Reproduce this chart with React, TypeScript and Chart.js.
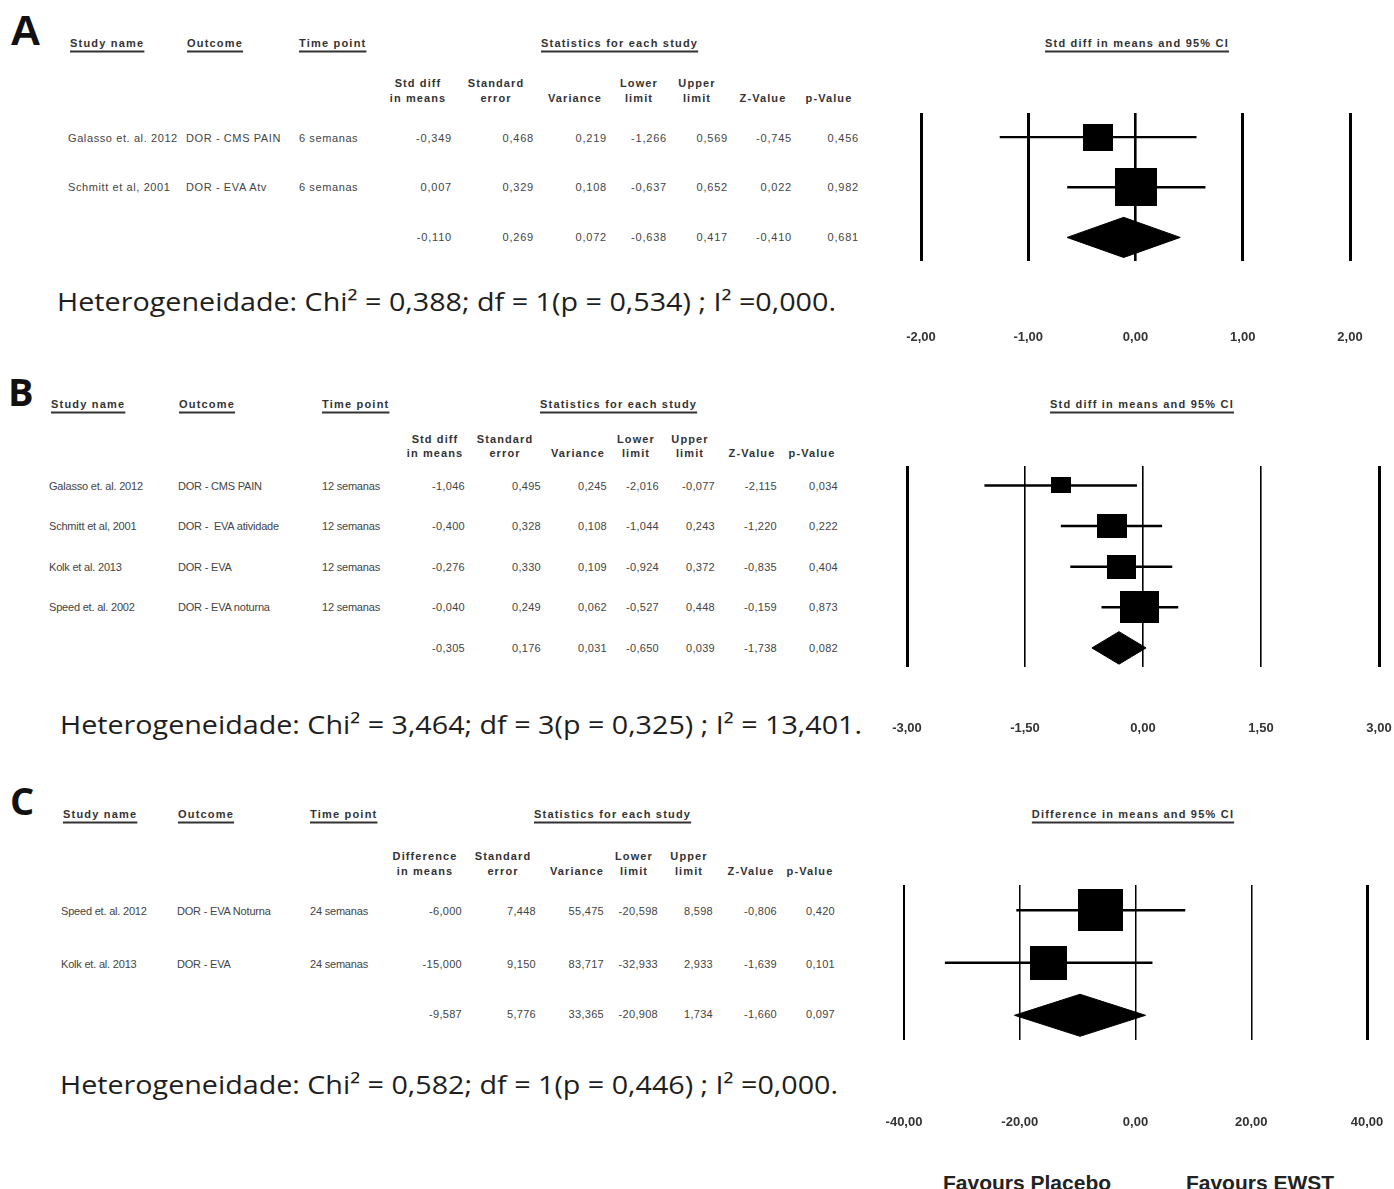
import React, { useEffect, useMemo, useRef } from 'react';
import { Chart, registerables } from 'chart.js';

Chart.register(...registerables);

// ---------------- Panel A data ----------------
const studiesA = ['Galasso et. al. 2012', 'Schmitt et al, 2001'];
const outcomesA = ['DOR - CMS PAIN', 'DOR - EVA Atv'];
const timesA = ['6 semanas', '6 semanas'];
const effectA = [-0.349, 0.007];
const seA = [0.468, 0.329];
const varA = [0.219, 0.108];
const lowerA = [-1.266, -0.637];
const upperA = [0.569, 0.652];
const zA = [-0.745, 0.022];
const pA = [0.456, 0.982];
// effect, se, variance, lower, upper, z, p
const summaryA = [-0.110, 0.269, 0.072, -0.638, 0.417, -0.410, 0.681];
const ticksA = [-2, -1, 0, 1, 2];
const hetA = 'Heterogeneidade: Chi² = 0,388; df = 1(p = 0,534) ; I² =0,000.';

// ---------------- Panel B data ----------------
const studiesB = ['Galasso et. al. 2012', 'Schmitt et al, 2001', 'Kolk et al. 2013', 'Speed et. al. 2002'];
const outcomesB = ['DOR - CMS PAIN', 'DOR -  EVA atividade', 'DOR - EVA', 'DOR - EVA noturna'];
const timesB = ['12 semanas', '12 semanas', '12 semanas', '12 semanas'];
const effectB = [-1.046, -0.400, -0.276, -0.040];
const seB = [0.495, 0.328, 0.330, 0.249];
const varB = [0.245, 0.108, 0.109, 0.062];
const lowerB = [-2.016, -1.044, -0.924, -0.527];
const upperB = [-0.077, 0.243, 0.372, 0.448];
const zB = [-2.115, -1.220, -0.835, -0.159];
const pB = [0.034, 0.222, 0.404, 0.873];
const summaryB = [-0.305, 0.176, 0.031, -0.650, 0.039, -1.738, 0.082];
const ticksB = [-3, -1.5, 0, 1.5, 3];
const hetB = 'Heterogeneidade: Chi² = 3,464; df = 3(p = 0,325) ; I² = 13,401.';

// ---------------- Panel C data ----------------
const studiesC = ['Speed et. al. 2012', 'Kolk et. al. 2013'];
const outcomesC = ['DOR - EVA Noturna', 'DOR - EVA'];
const timesC = ['24 semanas', '24 semanas'];
const effectC = [-6.0, -15.0];
const seC = [7.448, 9.150];
const varC = [55.475, 83.717];
const lowerC = [-20.598, -32.933];
const upperC = [8.598, 2.933];
const zC = [-0.806, -1.639];
const pC = [0.420, 0.101];
const summaryC = [-9.587, 5.776, 33.365, -20.908, 1.734, -1.660, 0.097];
const ticksC = [-40, -20, 0, 20, 40];
const hetC = 'Heterogeneidade: Chi² = 0,582; df = 1(p = 0,446) ; I² =0,000.';

const headLine1Std = ['Std diff', 'Standard', '', 'Lower', 'Upper', '', ''];
const headLine1Diff = ['Difference', 'Standard', '', 'Lower', 'Upper', '', ''];
const headLine2 = ['in means', 'error', 'Variance', 'limit', 'limit', 'Z-Value', 'p-Value'];

const fmt3 = (v: number) => v.toFixed(3).replace('.', ',');
const fmt2 = (v: number) => v.toFixed(2).replace('.', ',');

const SANS = '"Liberation Sans", Arial, sans-serif';

function T(props: { x: number; y: number; a?: 'l' | 'r' | 'c'; s?: React.CSSProperties; children: React.ReactNode }) {
  const { x, y, a = 'l', s, children } = props;
  const tx = a === 'l' ? '0' : a === 'r' ? '-100%' : '-50%';
  return (
    <div
      style={{
        position: 'absolute',
        left: x,
        top: y,
        transform: `translate(${tx},-50%)`,
        whiteSpace: 'pre',
        lineHeight: 1,
        ...s,
      }}
    >
      {children}
    </div>
  );
}

function FitText(props: { x: number; y: number; w: number; text: string; font: string }) {
  const { x, y, w, text, font } = props;
  const measured = useMemo(() => {
    const c = document.createElement('canvas').getContext('2d');
    if (!c) return w;
    c.font = font;
    return c.measureText(text).width;
  }, [text, font, w]);
  const sx = w / measured;
  return (
    <div
      style={{
        position: 'absolute',
        left: x,
        top: y,
        transform: `translateY(-50%) scaleX(${sx})`,
        transformOrigin: 'left center',
        font,
        lineHeight: 1,
        whiteSpace: 'pre',
        color: '#1e1e1e',
      }}
    >
      {text}
    </div>
  );
}

type ForestLayout = {
  x0: number; x1: number; y0: number; y1: number; labelY: number;
  boxW: number; boxH: number; grid: number[]; ci: number;
};

function Forest(props: {
  lay: ForestLayout; effects: number[]; se: number[]; lower: number[]; upper: number[];
  summary: number[]; ticks: number[];
}) {
  const { lay, effects, se, lower, upper, summary, ticks } = props;
  const ref = useRef<HTMLCanvasElement>(null);
  const padL = 40;
  const padT = 5;
  const fontSize = 13;
  const gap = lay.labelY - lay.y1;
  const axisH = gap + 14;
  const W = lay.x1 - lay.x0 + 2 * padL;
  const H = lay.y1 - lay.y0 + padT + axisH;

  useEffect(() => {
    if (!ref.current) return;
    const n = effects.length;
    const maxInv = Math.max(...se.map((s) => 1 / s));
    const boxes = se.map((s) => {
      const r = 1 / s / maxInv;
      const c = document.createElement('canvas');
      c.width = Math.max(2, Math.round(lay.boxW * r));
      c.height = Math.max(2, Math.round(lay.boxH * r));
      const g = c.getContext('2d');
      if (g) {
        g.fillStyle = '#000';
        g.fillRect(0, 0, c.width, c.height);
      }
      return c;
    });
    const [sE, , , sL, sU] = summary;
    const datasets: any[] = [
      {
        data: effects.map((e, i) => ({ x: e, y: i })),
        pointStyle: boxes,
        pointRadius: 1,
        showLine: false,
      },
      ...effects.map((_, i) => ({
        data: [
          { x: lower[i], y: i },
          { x: upper[i], y: i },
        ],
        showLine: true,
        borderColor: '#000',
        borderWidth: lay.ci,
        pointRadius: 0,
        fill: false,
      })),
      {
        data: [
          { x: sL, y: n },
          { x: sE, y: n - 0.4 },
          { x: sU, y: n },
        ],
        showLine: true,
        borderColor: '#000',
        backgroundColor: '#000',
        borderWidth: 1,
        pointRadius: 0,
        fill: '+1',
      },
      {
        data: [
          { x: sL, y: n },
          { x: sE, y: n + 0.4 },
          { x: sU, y: n },
        ],
        showLine: true,
        borderColor: '#000',
        backgroundColor: '#000',
        borderWidth: 1,
        pointRadius: 0,
        fill: false,
      },
    ];
    const chart = new Chart(ref.current, {
      type: 'scatter',
      data: { datasets },
      options: {
        responsive: false,
        animation: false,
        events: [],
        layout: { padding: { left: padL, right: padL, top: padT, bottom: 0 } },
        plugins: { legend: { display: false }, tooltip: { enabled: false } },
        scales: {
          x: {
            type: 'linear',
            min: ticks[0],
            max: ticks[ticks.length - 1],
            afterBuildTicks: (s: any) => {
              s.ticks = ticks.map((v) => ({ value: v }));
            },
            afterFit: (s: any) => {
              s.height = axisH;
            },
            border: { display: false },
            grid: {
              color: '#000',
              drawTicks: false,
              lineWidth: (ctx: any) => lay.grid[ctx.index] ?? 1,
            },
            ticks: {
              padding: 0,
              autoSkip: false,
              maxRotation: 0,
              color: '#333',
              font: { family: SANS, size: fontSize, weight: 'bold', lineHeight: `${2 * gap}px` },
              callback: (v: any) => fmt2(Number(v)),
            },
          },
          y: {
            type: 'linear',
            display: false,
            min: -0.48,
            max: n + 0.47,
            reverse: true,
          },
        },
      } as any,
    });
    return () => chart.destroy();
  }, []);

  return (
    <canvas
      ref={ref}
      width={W}
      height={H}
      style={{ position: 'absolute', left: lay.x0 - padL, top: lay.y0 - padT, width: W, height: H }}
    />
  );
}

type TableLayout = {
  headY: number; nameX: number; outX: number; timeX: number; statX: number; titleX: number;
  hY1: number; hY2: number; centers: number[]; rights: number[]; rowsY: number[];
  valSpacing: number; nameSpacing: number;
};

const underlined: React.CSSProperties = {
  fontFamily: SANS,
  fontWeight: 'bold',
  fontSize: 11,
  letterSpacing: 1.2,
  color: '#333',
  textDecoration: 'underline',
  textUnderlineOffset: 4,
  textDecorationThickness: 1.5,
};

const colHead: React.CSSProperties = {
  fontFamily: SANS,
  fontWeight: 'bold',
  fontSize: 11,
  letterSpacing: 1.1,
  color: '#333',
};

function Table(props: {
  lay: TableLayout; title: string; h1: string[];
  names: string[]; outcomes: string[]; times: string[]; rows: number[][]; summary: number[];
}) {
  const { lay, title, h1, names, outcomes, times, rows, summary } = props;
  const val: React.CSSProperties = { fontFamily: SANS, fontSize: 11, color: '#444', letterSpacing: lay.valSpacing };
  const nm: React.CSSProperties = { fontFamily: SANS, fontSize: 11, color: '#444', letterSpacing: lay.nameSpacing };
  const allRows = [...rows, summary];
  return (
    <>
      <T x={lay.nameX} y={lay.headY} s={underlined}>Study name</T>
      <T x={lay.outX} y={lay.headY} s={underlined}>Outcome</T>
      <T x={lay.timeX} y={lay.headY} s={underlined}>Time point</T>
      <T x={lay.statX} y={lay.headY} s={underlined}>Statistics for each study</T>
      <T x={lay.titleX} y={lay.headY} a="c" s={underlined}>{title}</T>
      {h1.map((h, i) => (h ? <T key={'a' + i} x={lay.centers[i]} y={lay.hY1} a="c" s={colHead}>{h}</T> : null))}
      {headLine2.map((h, i) => (
        <T key={'b' + i} x={lay.centers[i]} y={lay.hY2} a="c" s={colHead}>{h}</T>
      ))}
      {names.map((s, i) => (
        <T key={'n' + i} x={lay.nameX - 2} y={lay.rowsY[i]} s={nm}>{s}</T>
      ))}
      {outcomes.map((s, i) => (
        <T key={'o' + i} x={lay.outX - 1} y={lay.rowsY[i]} s={nm}>{s}</T>
      ))}
      {times.map((s, i) => (
        <T key={'t' + i} x={lay.timeX} y={lay.rowsY[i]} s={nm}>{s}</T>
      ))}
      {allRows.map((r, i) =>
        r.map((v, j) => (
          <T key={`v${i}-${j}`} x={lay.rights[j]} y={lay.rowsY[i]} a="r" s={val}>{fmt3(v)}</T>
        ))
      )}
    </>
  );
}

const rowsOf = (e: number[], s: number[], v: number[], l: number[], u: number[], z: number[], p: number[]) =>
  e.map((_, i) => [e[i], s[i], v[i], l[i], u[i], z[i], p[i]]);

const tableA: TableLayout = {
  headY: 43, nameX: 70, outX: 187, timeX: 299, statX: 541, titleX: 1137,
  hY1: 83, hY2: 98, centers: [418, 496, 575, 639, 697, 763, 829],
  rights: [452, 534, 607, 667, 728, 792, 859], rowsY: [138, 187, 237],
  valSpacing: 0.8, nameSpacing: 0.6,
};
const tableB: TableLayout = {
  headY: 404, nameX: 51, outX: 179, timeX: 322, statX: 540, titleX: 1142,
  hY1: 439, hY2: 453, centers: [435, 505, 578, 636, 690, 752, 812],
  rights: [465, 541, 607, 659, 715, 777, 838], rowsY: [486, 526, 567, 607, 648],
  valSpacing: 0.3, nameSpacing: -0.2,
};
const tableC: TableLayout = {
  headY: 814, nameX: 63, outX: 178, timeX: 310, statX: 534, titleX: 1133,
  hY1: 856, hY2: 871, centers: [425, 503, 577, 634, 689, 751, 810],
  rights: [462, 536, 604, 658, 713, 777, 835], rowsY: [911, 964, 1014],
  valSpacing: 0.3, nameSpacing: -0.2,
};

const forestA: ForestLayout = { x0: 921, x1: 1350, y0: 113, y1: 261, labelY: 337, boxW: 42, boxH: 38, grid: [3, 3, 2.6, 3, 3], ci: 2.3 };
const forestB: ForestLayout = { x0: 907, x1: 1379, y0: 466, y1: 667, labelY: 728, boxW: 39, boxH: 32, grid: [3, 1.6, 1.6, 1.6, 3], ci: 2.5 };
const forestC: ForestLayout = { x0: 904, x1: 1367, y0: 885, y1: 1040, labelY: 1122, boxW: 45, boxH: 42, grid: [2, 1.5, 1.5, 1.5, 3], ci: 2.5 };

const HET_FONT = '25px "Open Sans"';

export default function App() {
  return (
    <div
      style={{
        position: 'absolute',
        left: 0,
        top: 0,
        width: 1394,
        height: 1189,
        background: '#fff',
        overflow: 'hidden',
      }}
    >
      <T x={10} y={30} s={{ fontFamily: SANS, fontWeight: 'bold', fontSize: 43, color: '#111' }}>A</T>
      <T x={8} y={391} s={{ fontFamily: '"Open Sans"', fontWeight: 'bold', fontSize: 38, color: '#111' }}>B</T>
      <T x={10} y={800} s={{ fontFamily: '"Open Sans"', fontWeight: 'bold', fontSize: 38, color: '#111' }}>C</T>

      <Table
        lay={tableA}
        title="Std diff in means and 95% CI"
        h1={headLine1Std}
        names={studiesA}
        outcomes={outcomesA}
        times={timesA}
        rows={rowsOf(effectA, seA, varA, lowerA, upperA, zA, pA)}
        summary={summaryA}
      />
      <Table
        lay={tableB}
        title="Std diff in means and 95% CI"
        h1={headLine1Std}
        names={studiesB}
        outcomes={outcomesB}
        times={timesB}
        rows={rowsOf(effectB, seB, varB, lowerB, upperB, zB, pB)}
        summary={summaryB}
      />
      <Table
        lay={tableC}
        title="Difference in means and 95% CI"
        h1={headLine1Diff}
        names={studiesC}
        outcomes={outcomesC}
        times={timesC}
        rows={rowsOf(effectC, seC, varC, lowerC, upperC, zC, pC)}
        summary={summaryC}
      />

      <FitText x={57} y={301} w={779} text={hetA} font={HET_FONT} />
      <FitText x={60} y={724} w={802} text={hetB} font={HET_FONT} />
      <FitText x={60} y={1084} w={778} text={hetC} font={HET_FONT} />

      <Forest lay={forestA} effects={effectA} se={seA} lower={lowerA} upper={upperA} summary={summaryA} ticks={ticksA} />
      <Forest lay={forestB} effects={effectB} se={seB} lower={lowerB} upper={upperB} summary={summaryB} ticks={ticksB} />
      <Forest lay={forestC} effects={effectC} se={seC} lower={lowerC} upper={upperC} summary={summaryC} ticks={ticksC} />

      <T x={1027} y={1182} a="c" s={{ fontFamily: SANS, fontWeight: 'bold', fontSize: 21, color: '#222' }}>Favours Placebo</T>
      <T x={1260} y={1182} a="c" s={{ fontFamily: SANS, fontWeight: 'bold', fontSize: 21, color: '#222' }}>Favours EWST</T>
    </div>
  );
}
